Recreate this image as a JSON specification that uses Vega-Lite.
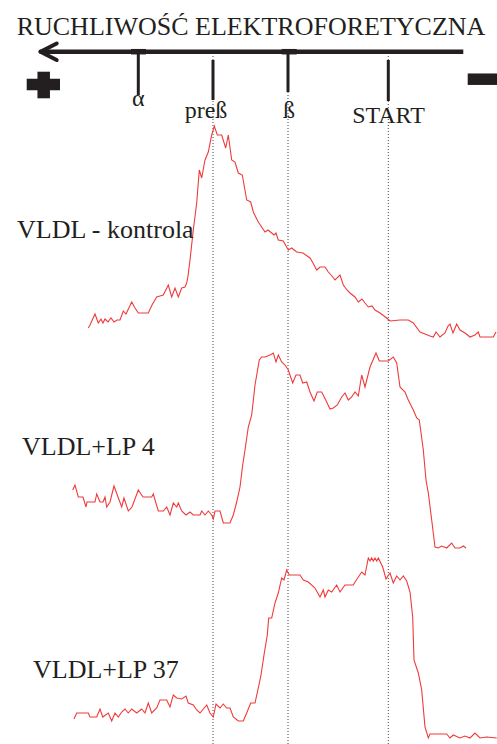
{
  "$schema": "https://vega.github.io/schema/vega-lite/v6.json",
  "width": 497,
  "height": 744,
  "autosize": {"type": "none"},
  "padding": 0,
  "background": "white",
  "config": {"view": {"stroke": null}},
  "datasets": {
    "traces": [
      {"trace": "kontrola", "x": 88.3, "y": 328}, {"trace": "kontrola", "x": 90, "y": 325}, {"trace": "kontrola", "x": 95, "y": 314}, {"trace": "kontrola", "x": 98.3, "y": 323}, {"trace": "kontrola", "x": 101, "y": 319}, {"trace": "kontrola", "x": 103, "y": 323}, {"trace": "kontrola", "x": 105, "y": 319}, {"trace": "kontrola", "x": 108, "y": 322}, {"trace": "kontrola", "x": 111, "y": 318}, {"trace": "kontrola", "x": 114, "y": 322}, {"trace": "kontrola", "x": 117, "y": 320}, {"trace": "kontrola", "x": 120, "y": 320}, {"trace": "kontrola", "x": 123.3, "y": 311}, {"trace": "kontrola", "x": 126, "y": 314}, {"trace": "kontrola", "x": 131.7, "y": 302}, {"trace": "kontrola", "x": 135, "y": 308}, {"trace": "kontrola", "x": 138.3, "y": 313}, {"trace": "kontrola", "x": 143, "y": 313}, {"trace": "kontrola", "x": 148.3, "y": 313}, {"trace": "kontrola", "x": 152, "y": 305}, {"trace": "kontrola", "x": 156.7, "y": 297}, {"trace": "kontrola", "x": 160, "y": 296}, {"trace": "kontrola", "x": 163.3, "y": 295}, {"trace": "kontrola", "x": 168.3, "y": 285}, {"trace": "kontrola", "x": 171.7, "y": 297}, {"trace": "kontrola", "x": 175, "y": 288}, {"trace": "kontrola", "x": 178.3, "y": 297}, {"trace": "kontrola", "x": 181.7, "y": 288}, {"trace": "kontrola", "x": 185, "y": 287}, {"trace": "kontrola", "x": 186.7, "y": 283}, {"trace": "kontrola", "x": 188, "y": 276}, {"trace": "kontrola", "x": 190, "y": 260}, {"trace": "kontrola", "x": 193.3, "y": 230}, {"trace": "kontrola", "x": 196.7, "y": 203}, {"trace": "kontrola", "x": 199.3, "y": 170}, {"trace": "kontrola", "x": 201.7, "y": 178}, {"trace": "kontrola", "x": 205, "y": 160}, {"trace": "kontrola", "x": 208.3, "y": 152}, {"trace": "kontrola", "x": 211.7, "y": 135}, {"trace": "kontrola", "x": 214.3, "y": 126}, {"trace": "kontrola", "x": 217.3, "y": 135}, {"trace": "kontrola", "x": 221.7, "y": 135}, {"trace": "kontrola", "x": 225.7, "y": 148}, {"trace": "kontrola", "x": 228.3, "y": 135}, {"trace": "kontrola", "x": 231.7, "y": 160}, {"trace": "kontrola", "x": 235, "y": 162}, {"trace": "kontrola", "x": 238.3, "y": 173}, {"trace": "kontrola", "x": 242.3, "y": 175}, {"trace": "kontrola", "x": 246.7, "y": 200}, {"trace": "kontrola", "x": 250.7, "y": 202}, {"trace": "kontrola", "x": 253.3, "y": 212}, {"trace": "kontrola", "x": 258.3, "y": 222}, {"trace": "kontrola", "x": 265, "y": 232}, {"trace": "kontrola", "x": 268, "y": 230}, {"trace": "kontrola", "x": 271.7, "y": 233}, {"trace": "kontrola", "x": 274, "y": 235}, {"trace": "kontrola", "x": 276, "y": 233}, {"trace": "kontrola", "x": 278.3, "y": 240}, {"trace": "kontrola", "x": 283.3, "y": 241}, {"trace": "kontrola", "x": 288.3, "y": 250}, {"trace": "kontrola", "x": 291.7, "y": 248}, {"trace": "kontrola", "x": 296.7, "y": 252}, {"trace": "kontrola", "x": 303, "y": 253}, {"trace": "kontrola", "x": 310, "y": 258}, {"trace": "kontrola", "x": 313, "y": 263}, {"trace": "kontrola", "x": 316.7, "y": 270}, {"trace": "kontrola", "x": 320, "y": 267}, {"trace": "kontrola", "x": 325, "y": 267}, {"trace": "kontrola", "x": 328.3, "y": 272}, {"trace": "kontrola", "x": 332, "y": 276}, {"trace": "kontrola", "x": 335, "y": 280}, {"trace": "kontrola", "x": 340, "y": 275}, {"trace": "kontrola", "x": 343.3, "y": 285}, {"trace": "kontrola", "x": 347, "y": 290}, {"trace": "kontrola", "x": 350, "y": 293}, {"trace": "kontrola", "x": 355, "y": 297}, {"trace": "kontrola", "x": 358.3, "y": 302}, {"trace": "kontrola", "x": 362, "y": 299}, {"trace": "kontrola", "x": 365, "y": 303}, {"trace": "kontrola", "x": 368.3, "y": 307}, {"trace": "kontrola", "x": 372, "y": 306}, {"trace": "kontrola", "x": 375, "y": 310}, {"trace": "kontrola", "x": 380, "y": 313}, {"trace": "kontrola", "x": 386.7, "y": 318}, {"trace": "kontrola", "x": 390, "y": 321}, {"trace": "kontrola", "x": 400, "y": 320}, {"trace": "kontrola", "x": 408.3, "y": 320}, {"trace": "kontrola", "x": 413.3, "y": 323}, {"trace": "kontrola", "x": 420, "y": 332}, {"trace": "kontrola", "x": 425, "y": 334}, {"trace": "kontrola", "x": 430, "y": 336}, {"trace": "kontrola", "x": 433.3, "y": 337}, {"trace": "kontrola", "x": 436, "y": 332}, {"trace": "kontrola", "x": 440, "y": 337}, {"trace": "kontrola", "x": 445, "y": 333}, {"trace": "kontrola", "x": 448, "y": 326}, {"trace": "kontrola", "x": 450, "y": 324}, {"trace": "kontrola", "x": 453, "y": 333}, {"trace": "kontrola", "x": 456.7, "y": 324}, {"trace": "kontrola", "x": 460, "y": 330}, {"trace": "kontrola", "x": 465, "y": 333}, {"trace": "kontrola", "x": 470, "y": 337}, {"trace": "kontrola", "x": 475, "y": 335}, {"trace": "kontrola", "x": 478.3, "y": 332}, {"trace": "kontrola", "x": 480, "y": 337}, {"trace": "kontrola", "x": 493.3, "y": 337}, {"trace": "kontrola", "x": 496, "y": 332},

      {"trace": "LP 4", "x": 72.7, "y": 490}, {"trace": "LP 4", "x": 75, "y": 485}, {"trace": "LP 4", "x": 78.3, "y": 497}, {"trace": "LP 4", "x": 83, "y": 497}, {"trace": "LP 4", "x": 86, "y": 507}, {"trace": "LP 4", "x": 87, "y": 502}, {"trace": "LP 4", "x": 95, "y": 502}, {"trace": "LP 4", "x": 96.7, "y": 494}, {"trace": "LP 4", "x": 100, "y": 502}, {"trace": "LP 4", "x": 103, "y": 502}, {"trace": "LP 4", "x": 105, "y": 497}, {"trace": "LP 4", "x": 106.7, "y": 507}, {"trace": "LP 4", "x": 110, "y": 502}, {"trace": "LP 4", "x": 114, "y": 486}, {"trace": "LP 4", "x": 118, "y": 497}, {"trace": "LP 4", "x": 121.7, "y": 507}, {"trace": "LP 4", "x": 124, "y": 498}, {"trace": "LP 4", "x": 128.3, "y": 511}, {"trace": "LP 4", "x": 132, "y": 507}, {"trace": "LP 4", "x": 138.3, "y": 490}, {"trace": "LP 4", "x": 143, "y": 497}, {"trace": "LP 4", "x": 151.7, "y": 497}, {"trace": "LP 4", "x": 153.3, "y": 494}, {"trace": "LP 4", "x": 158.3, "y": 511}, {"trace": "LP 4", "x": 163.3, "y": 511}, {"trace": "LP 4", "x": 166.7, "y": 507}, {"trace": "LP 4", "x": 170, "y": 515}, {"trace": "LP 4", "x": 173.3, "y": 503}, {"trace": "LP 4", "x": 176.7, "y": 507}, {"trace": "LP 4", "x": 178.3, "y": 503}, {"trace": "LP 4", "x": 181.7, "y": 511}, {"trace": "LP 4", "x": 186, "y": 515}, {"trace": "LP 4", "x": 190, "y": 512}, {"trace": "LP 4", "x": 193.3, "y": 515}, {"trace": "LP 4", "x": 200, "y": 515}, {"trace": "LP 4", "x": 201.7, "y": 511}, {"trace": "LP 4", "x": 205, "y": 515}, {"trace": "LP 4", "x": 208.3, "y": 511}, {"trace": "LP 4", "x": 211.7, "y": 515}, {"trace": "LP 4", "x": 213.3, "y": 519}, {"trace": "LP 4", "x": 215, "y": 511}, {"trace": "LP 4", "x": 220, "y": 511}, {"trace": "LP 4", "x": 223.3, "y": 523}, {"trace": "LP 4", "x": 230, "y": 523}, {"trace": "LP 4", "x": 233.3, "y": 515}, {"trace": "LP 4", "x": 236.7, "y": 502}, {"trace": "LP 4", "x": 240, "y": 487}, {"trace": "LP 4", "x": 242.7, "y": 465}, {"trace": "LP 4", "x": 245, "y": 450}, {"trace": "LP 4", "x": 248.3, "y": 427}, {"trace": "LP 4", "x": 251.7, "y": 415}, {"trace": "LP 4", "x": 255, "y": 385}, {"trace": "LP 4", "x": 259.3, "y": 360}, {"trace": "LP 4", "x": 261.7, "y": 357}, {"trace": "LP 4", "x": 265, "y": 357}, {"trace": "LP 4", "x": 270, "y": 355}, {"trace": "LP 4", "x": 273.3, "y": 353}, {"trace": "LP 4", "x": 276, "y": 362}, {"trace": "LP 4", "x": 278.3, "y": 355}, {"trace": "LP 4", "x": 281.7, "y": 362}, {"trace": "LP 4", "x": 285, "y": 365}, {"trace": "LP 4", "x": 288.3, "y": 370}, {"trace": "LP 4", "x": 292.7, "y": 383}, {"trace": "LP 4", "x": 296, "y": 375}, {"trace": "LP 4", "x": 300, "y": 375}, {"trace": "LP 4", "x": 302.7, "y": 383}, {"trace": "LP 4", "x": 306.7, "y": 382}, {"trace": "LP 4", "x": 310, "y": 392}, {"trace": "LP 4", "x": 314, "y": 401}, {"trace": "LP 4", "x": 317.3, "y": 392}, {"trace": "LP 4", "x": 321.7, "y": 392}, {"trace": "LP 4", "x": 325.7, "y": 400}, {"trace": "LP 4", "x": 330, "y": 409}, {"trace": "LP 4", "x": 333.3, "y": 408}, {"trace": "LP 4", "x": 337.3, "y": 405}, {"trace": "LP 4", "x": 341.7, "y": 397}, {"trace": "LP 4", "x": 345, "y": 393}, {"trace": "LP 4", "x": 348.3, "y": 400}, {"trace": "LP 4", "x": 351.7, "y": 397}, {"trace": "LP 4", "x": 355, "y": 392}, {"trace": "LP 4", "x": 358.3, "y": 396}, {"trace": "LP 4", "x": 361.7, "y": 375}, {"trace": "LP 4", "x": 365, "y": 387}, {"trace": "LP 4", "x": 370, "y": 367}, {"trace": "LP 4", "x": 376, "y": 353}, {"trace": "LP 4", "x": 379.3, "y": 361}, {"trace": "LP 4", "x": 388.3, "y": 361}, {"trace": "LP 4", "x": 393.3, "y": 357}, {"trace": "LP 4", "x": 396.7, "y": 363}, {"trace": "LP 4", "x": 400, "y": 387}, {"trace": "LP 4", "x": 405, "y": 392}, {"trace": "LP 4", "x": 408.3, "y": 400}, {"trace": "LP 4", "x": 413.3, "y": 410}, {"trace": "LP 4", "x": 416.7, "y": 418}, {"trace": "LP 4", "x": 419.3, "y": 420}, {"trace": "LP 4", "x": 423.3, "y": 450}, {"trace": "LP 4", "x": 426, "y": 480}, {"trace": "LP 4", "x": 428.3, "y": 493}, {"trace": "LP 4", "x": 431.7, "y": 520}, {"trace": "LP 4", "x": 435, "y": 547}, {"trace": "LP 4", "x": 438.3, "y": 548}, {"trace": "LP 4", "x": 441.7, "y": 546}, {"trace": "LP 4", "x": 446.7, "y": 548}, {"trace": "LP 4", "x": 451.7, "y": 543}, {"trace": "LP 4", "x": 455, "y": 548}, {"trace": "LP 4", "x": 460, "y": 548}, {"trace": "LP 4", "x": 463.3, "y": 546}, {"trace": "LP 4", "x": 466, "y": 548},

      {"trace": "LP 37", "x": 74, "y": 719}, {"trace": "LP 37", "x": 76.7, "y": 713}, {"trace": "LP 37", "x": 88.3, "y": 713}, {"trace": "LP 37", "x": 90, "y": 717}, {"trace": "LP 37", "x": 96.7, "y": 717}, {"trace": "LP 37", "x": 100, "y": 709}, {"trace": "LP 37", "x": 102.7, "y": 717}, {"trace": "LP 37", "x": 108.3, "y": 713}, {"trace": "LP 37", "x": 111.7, "y": 721}, {"trace": "LP 37", "x": 115, "y": 713}, {"trace": "LP 37", "x": 118.3, "y": 717}, {"trace": "LP 37", "x": 121.7, "y": 712}, {"trace": "LP 37", "x": 125, "y": 709}, {"trace": "LP 37", "x": 128.3, "y": 713}, {"trace": "LP 37", "x": 131.7, "y": 709}, {"trace": "LP 37", "x": 136.7, "y": 713}, {"trace": "LP 37", "x": 141.7, "y": 709}, {"trace": "LP 37", "x": 145, "y": 713}, {"trace": "LP 37", "x": 148.3, "y": 703}, {"trace": "LP 37", "x": 151.7, "y": 713}, {"trace": "LP 37", "x": 156.7, "y": 708}, {"trace": "LP 37", "x": 160, "y": 700}, {"trace": "LP 37", "x": 166.7, "y": 700}, {"trace": "LP 37", "x": 170, "y": 707}, {"trace": "LP 37", "x": 173.3, "y": 695}, {"trace": "LP 37", "x": 176.7, "y": 698}, {"trace": "LP 37", "x": 181.7, "y": 699}, {"trace": "LP 37", "x": 186, "y": 696}, {"trace": "LP 37", "x": 188.3, "y": 703}, {"trace": "LP 37", "x": 193.3, "y": 705}, {"trace": "LP 37", "x": 196.7, "y": 710}, {"trace": "LP 37", "x": 200, "y": 713}, {"trace": "LP 37", "x": 206.7, "y": 705}, {"trace": "LP 37", "x": 210, "y": 713}, {"trace": "LP 37", "x": 213.3, "y": 717}, {"trace": "LP 37", "x": 216, "y": 704}, {"trace": "LP 37", "x": 220, "y": 708}, {"trace": "LP 37", "x": 223.3, "y": 704}, {"trace": "LP 37", "x": 226.7, "y": 708}, {"trace": "LP 37", "x": 230, "y": 708}, {"trace": "LP 37", "x": 233.3, "y": 717}, {"trace": "LP 37", "x": 238.3, "y": 721}, {"trace": "LP 37", "x": 243.3, "y": 721}, {"trace": "LP 37", "x": 246.7, "y": 713}, {"trace": "LP 37", "x": 250.7, "y": 703}, {"trace": "LP 37", "x": 255, "y": 703}, {"trace": "LP 37", "x": 258.3, "y": 688}, {"trace": "LP 37", "x": 261, "y": 675}, {"trace": "LP 37", "x": 264, "y": 655}, {"trace": "LP 37", "x": 267.3, "y": 635}, {"trace": "LP 37", "x": 268.7, "y": 618}, {"trace": "LP 37", "x": 271.7, "y": 618}, {"trace": "LP 37", "x": 275, "y": 603}, {"trace": "LP 37", "x": 278.3, "y": 593}, {"trace": "LP 37", "x": 281.7, "y": 578}, {"trace": "LP 37", "x": 284, "y": 580}, {"trace": "LP 37", "x": 286.7, "y": 570}, {"trace": "LP 37", "x": 289.3, "y": 575}, {"trace": "LP 37", "x": 300, "y": 575}, {"trace": "LP 37", "x": 303.3, "y": 580}, {"trace": "LP 37", "x": 308.3, "y": 582}, {"trace": "LP 37", "x": 315, "y": 588}, {"trace": "LP 37", "x": 320, "y": 597}, {"trace": "LP 37", "x": 323.3, "y": 590}, {"trace": "LP 37", "x": 325, "y": 597}, {"trace": "LP 37", "x": 328.3, "y": 590}, {"trace": "LP 37", "x": 331.7, "y": 592}, {"trace": "LP 37", "x": 336.7, "y": 585}, {"trace": "LP 37", "x": 340, "y": 592}, {"trace": "LP 37", "x": 345, "y": 585}, {"trace": "LP 37", "x": 353.3, "y": 585}, {"trace": "LP 37", "x": 355, "y": 582}, {"trace": "LP 37", "x": 361.7, "y": 572}, {"trace": "LP 37", "x": 365, "y": 575}, {"trace": "LP 37", "x": 368.3, "y": 558}, {"trace": "LP 37", "x": 370, "y": 561}, {"trace": "LP 37", "x": 371.7, "y": 558}, {"trace": "LP 37", "x": 373.3, "y": 561}, {"trace": "LP 37", "x": 375, "y": 558}, {"trace": "LP 37", "x": 376.7, "y": 561}, {"trace": "LP 37", "x": 378.3, "y": 558}, {"trace": "LP 37", "x": 382.7, "y": 567}, {"trace": "LP 37", "x": 386, "y": 579}, {"trace": "LP 37", "x": 390, "y": 573}, {"trace": "LP 37", "x": 393.3, "y": 583}, {"trace": "LP 37", "x": 396.7, "y": 576}, {"trace": "LP 37", "x": 400, "y": 580}, {"trace": "LP 37", "x": 403.3, "y": 576}, {"trace": "LP 37", "x": 406.7, "y": 581}, {"trace": "LP 37", "x": 410, "y": 592}, {"trace": "LP 37", "x": 412.7, "y": 617}, {"trace": "LP 37", "x": 414, "y": 660}, {"trace": "LP 37", "x": 418.3, "y": 673}, {"trace": "LP 37", "x": 421.7, "y": 690}, {"trace": "LP 37", "x": 425, "y": 727}, {"trace": "LP 37", "x": 428.3, "y": 738}, {"trace": "LP 37", "x": 430, "y": 734}, {"trace": "LP 37", "x": 446.7, "y": 734}, {"trace": "LP 37", "x": 450, "y": 738}, {"trace": "LP 37", "x": 453.3, "y": 735}, {"trace": "LP 37", "x": 460, "y": 738}, {"trace": "LP 37", "x": 465, "y": 736}, {"trace": "LP 37", "x": 470, "y": 738}, {"trace": "LP 37", "x": 475, "y": 733}, {"trace": "LP 37", "x": 480, "y": 738}, {"trace": "LP 37", "x": 486.7, "y": 737}, {"trace": "LP 37", "x": 496.7, "y": 738}
    ],
    "guides": [
      {"band": "preß", "x": 213, "y": 56, "y2": 744},
      {"band": "ß", "x": 288, "y": 56, "y2": 744},
      {"band": "START", "x": 388.3, "y": 56, "y2": 744}
    ],
    "ticks": [
      {"band": "α", "x": 138.3, "y": 52, "y2": 95},
      {"band": "preß", "x": 213, "y": 60, "y2": 100},
      {"band": "ß", "x": 288, "y": 52, "y2": 92},
      {"band": "START", "x": 388.3, "y": 60, "y2": 101}
    ],
    "axisLine": [{"x": 41, "x2": 463.3, "y": 51.7}],
    "junctions": [
      {"band": "α", "x": 131, "x2": 146, "y": 51.7},
      {"band": "ß", "x": 281.7, "x2": 296.7, "y": 51.7}
    ],
    "arrowHead": [
      {"x": 40.5, "y": 51.7, "x2": 56.7, "y2": 43.5},
      {"x": 40.5, "y": 51.7, "x2": 56.7, "y2": 60}
    ],
    "poleBars": [
      {"pole": "+", "x": 26.7, "x2": 60, "y": 84.5},
      {"pole": "-", "x": 467.7, "x2": 497, "y": 79.2}
    ],
    "poleStems": [
      {"pole": "+", "x": 43.7, "y": 71.7, "y2": 98.3}
    ],
    "bandLabels": [
      {"text": "α", "x": 138.3, "y": 106},
      {"text": "preß", "x": 206, "y": 118},
      {"text": "ß", "x": 289, "y": 118},
      {"text": "START", "x": 388.5, "y": 123}
    ],
    "traceLabels": [
      {"text": "VLDL - kontrola", "x": 17, "y": 238},
      {"text": "VLDL+LP 4", "x": 22, "y": 455},
      {"text": "VLDL+LP 37", "x": 33, "y": 678}
    ],
    "heading": [
      {"text": "RUCHLIWOŚĆ ELEKTROFORETYCZNA", "x": 251, "y": 35}
    ]
  },
  "layer": [
    {
      "data": {"name": "guides"},
      "mark": {"type": "rule", "color": "#444444", "strokeWidth": 1, "strokeDash": [1, 2]},
      "encoding": {
        "x": {"field": "x", "type": "quantitative", "scale": {"domain": [0, 497], "nice": false, "zero": false}, "axis": null},
        "y": {"field": "y", "type": "quantitative", "scale": {"domain": [0, 744], "nice": false, "zero": false, "reverse": true}, "axis": null},
        "y2": {"field": "y2"}
      }
    },
    {
      "data": {"name": "traces"},
      "mark": {"type": "line", "color": "#f03a3a", "strokeWidth": 1.1, "interpolate": "linear"},
      "encoding": {
        "x": {"field": "x", "type": "quantitative"},
        "y": {"field": "y", "type": "quantitative"},
        "detail": {"field": "trace", "type": "nominal"}
      }
    },
    {
      "data": {"name": "axisLine"},
      "mark": {"type": "rule", "color": "#231f20", "strokeWidth": 4.5},
      "encoding": {
        "x": {"field": "x", "type": "quantitative"},
        "x2": {"field": "x2"},
        "y": {"field": "y", "type": "quantitative"}
      }
    },
    {
      "data": {"name": "junctions"},
      "mark": {"type": "rule", "color": "#231f20", "strokeWidth": 5.5},
      "encoding": {
        "x": {"field": "x", "type": "quantitative"},
        "x2": {"field": "x2"},
        "y": {"field": "y", "type": "quantitative"}
      }
    },
    {
      "data": {"name": "arrowHead"},
      "mark": {"type": "rule", "color": "#231f20", "strokeWidth": 4, "strokeCap": "round"},
      "encoding": {
        "x": {"field": "x", "type": "quantitative"},
        "x2": {"field": "x2"},
        "y": {"field": "y", "type": "quantitative"},
        "y2": {"field": "y2"}
      }
    },
    {
      "data": {"name": "ticks"},
      "mark": {"type": "rule", "color": "#231f20", "strokeWidth": 3},
      "encoding": {
        "x": {"field": "x", "type": "quantitative"},
        "y": {"field": "y", "type": "quantitative"},
        "y2": {"field": "y2"}
      }
    },
    {
      "data": {"name": "poleBars"},
      "mark": {"type": "rule", "color": "#231f20", "strokeWidth": 11.5},
      "encoding": {
        "x": {"field": "x", "type": "quantitative"},
        "x2": {"field": "x2"},
        "y": {"field": "y", "type": "quantitative"}
      }
    },
    {
      "data": {"name": "poleStems"},
      "mark": {"type": "rule", "color": "#231f20", "strokeWidth": 12.5},
      "encoding": {
        "x": {"field": "x", "type": "quantitative"},
        "y": {"field": "y", "type": "quantitative"},
        "y2": {"field": "y2"}
      }
    },
    {
      "data": {"name": "bandLabels"},
      "mark": {"type": "text", "font": "Liberation Serif", "fontSize": 24, "color": "#231f20", "align": "center", "baseline": "alphabetic"},
      "encoding": {
        "x": {"field": "x", "type": "quantitative"},
        "y": {"field": "y", "type": "quantitative"},
        "text": {"field": "text"}
      }
    },
    {
      "data": {"name": "traceLabels"},
      "mark": {"type": "text", "font": "Liberation Serif", "fontSize": 26, "color": "#231f20", "align": "left", "baseline": "alphabetic"},
      "encoding": {
        "x": {"field": "x", "type": "quantitative"},
        "y": {"field": "y", "type": "quantitative"},
        "text": {"field": "text"}
      }
    },
    {
      "data": {"name": "heading"},
      "mark": {"type": "text", "font": "Liberation Serif", "fontSize": 26, "color": "#231f20", "align": "center", "baseline": "alphabetic"},
      "encoding": {
        "x": {"field": "x", "type": "quantitative"},
        "y": {"field": "y", "type": "quantitative"},
        "text": {"field": "text"}
      }
    }
  ]
}
